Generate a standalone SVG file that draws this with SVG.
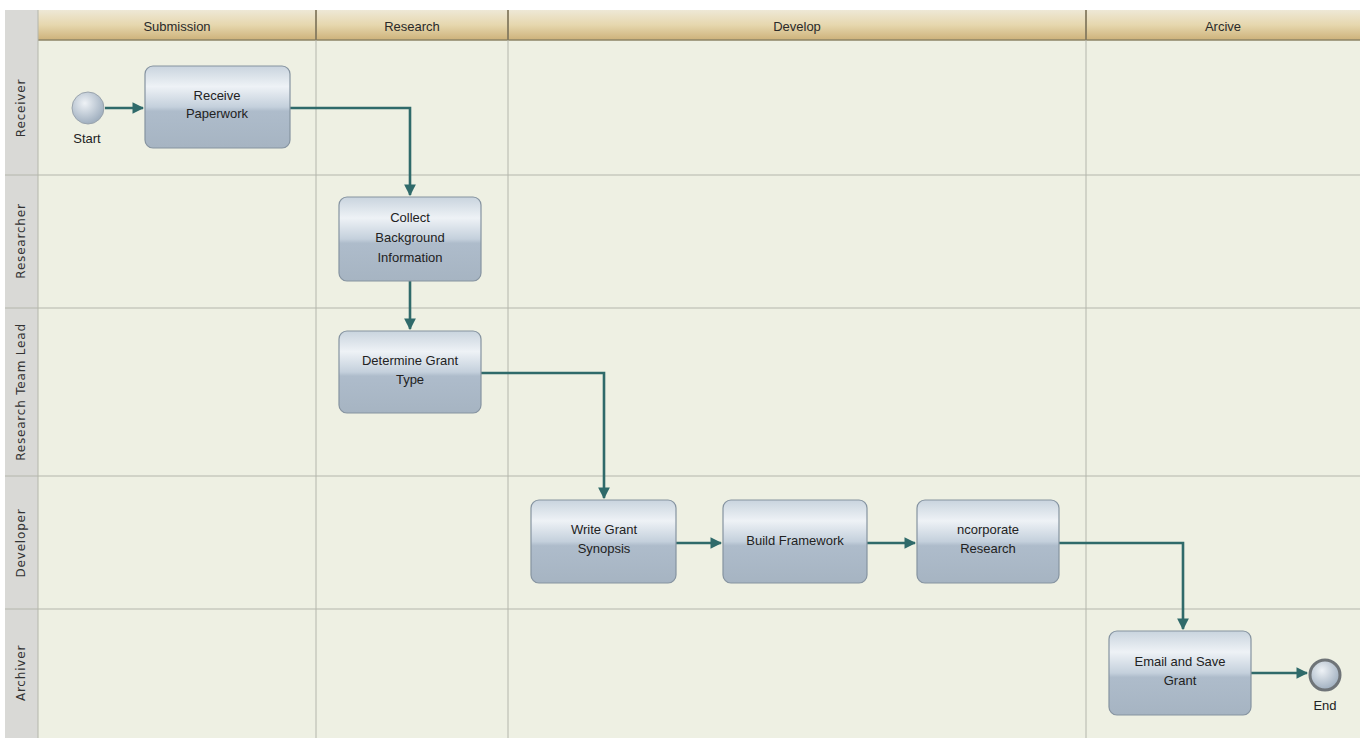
<svg xmlns="http://www.w3.org/2000/svg" width="1365" height="740" viewBox="0 0 1365 740">
<style>
.hdr{font-family:"Liberation Sans",Arial,sans-serif;font-size:13px;fill:#2a2a2a;text-anchor:middle}
.lane{font-family:"DejaVu Sans","Liberation Sans",sans-serif;font-size:12px;fill:#333;text-anchor:middle;letter-spacing:0.8px}
.t{font-family:"Liberation Sans",Arial,sans-serif;font-size:13px;fill:#222;text-anchor:middle}
.box{fill:url(#bg);stroke:#8593a0;stroke-width:1.2}
.grid{stroke:#b4b6ac;stroke-width:1;fill:none}
.conn{fill:none;stroke:#2f6a6a;stroke-width:2.6}
</style>
<defs>
<linearGradient id="bg" x1="0" y1="0" x2="0" y2="1">
<stop offset="0" stop-color="#c9d4de"/>
<stop offset="0.25" stop-color="#eef2f6"/>
<stop offset="0.5" stop-color="#c4d0dc"/>
<stop offset="0.55" stop-color="#aebccb"/>
<stop offset="1" stop-color="#a6b4c2"/>
</linearGradient>
<linearGradient id="hg" x1="0" y1="0" x2="0" y2="1">
<stop offset="0" stop-color="#eee8d6"/>
<stop offset="0.5" stop-color="#e6d7ae"/>
<stop offset="1" stop-color="#cdb27a"/>
</linearGradient>
<radialGradient id="cg" cx="0.4" cy="0.35" r="0.7">
<stop offset="0" stop-color="#eef2f6"/>
<stop offset="1" stop-color="#9aaabb"/>
</radialGradient>
<marker id="ah" viewBox="0 0 10 10" refX="9" refY="5" markerWidth="4.5" markerHeight="4.5" orient="auto">
<path d="M0,0 L10,5 L0,10 z" fill="#2f6a6a"/>
</marker>
</defs>
<rect width="1365" height="740" fill="#ffffff"/>
<g id="pool">
<rect x="5" y="10" width="1355" height="728" fill="#eef0e3"/>
<rect x="38" y="10" width="1322" height="30" fill="url(#hg)"/>
<rect x="5" y="10" width="33" height="728" fill="#d9d9d6"/>
<line class="grid" x1="38" y1="40" x2="1360" y2="40" style="stroke:#8d8466;stroke-width:1.5"/>
<line class="grid" x1="38" y1="10" x2="38" y2="738"/>
<line class="grid" x1="316" y1="10" x2="316" y2="738"/>
<line class="grid" x1="508" y1="10" x2="508" y2="738"/>
<line class="grid" x1="1086" y1="10" x2="1086" y2="738"/>
<line class="grid" x1="5" y1="175" x2="1360" y2="175"/>
<line class="grid" x1="5" y1="308" x2="1360" y2="308"/>
<line class="grid" x1="5" y1="476" x2="1360" y2="476"/>
<line class="grid" x1="5" y1="609" x2="1360" y2="609"/>
<line x1="316" y1="10" x2="316" y2="40" stroke="#7a6e50" stroke-width="1.5"/>
<line x1="508" y1="10" x2="508" y2="40" stroke="#7a6e50" stroke-width="1.5"/>
<line x1="1086" y1="10" x2="1086" y2="40" stroke="#7a6e50" stroke-width="1.5"/>
<text class="hdr" x="177" y="31">Submission</text>
<text class="hdr" x="412" y="31">Research</text>
<text class="hdr" x="797" y="31">Develop</text>
<text class="hdr" x="1223" y="31">Arcive</text>
<text class="lane" transform="translate(25,108) rotate(-90)">Receiver</text>
<text class="lane" transform="translate(25,241) rotate(-90)">Researcher</text>
<text class="lane" transform="translate(25,392) rotate(-90)">Research Team Lead</text>
<text class="lane" transform="translate(25,543) rotate(-90)">Developer</text>
<text class="lane" transform="translate(25,673) rotate(-90)">Archiver</text>
</g>
<g id="connectors">
<polyline class="conn" points="105,108 143,108" marker-end="url(#ah)"/>
<polyline class="conn" points="290,108 410,108 410,195" marker-end="url(#ah)"/>
<polyline class="conn" points="410,281 410,329" marker-end="url(#ah)"/>
<polyline class="conn" points="481,373 604,373 604,498" marker-end="url(#ah)"/>
<polyline class="conn" points="676,543 721,543" marker-end="url(#ah)"/>
<polyline class="conn" points="867,543 915,543" marker-end="url(#ah)"/>
<polyline class="conn" points="1059,543 1183,543 1183,629" marker-end="url(#ah)"/>
<polyline class="conn" points="1251,673 1307,673" marker-end="url(#ah)"/>
</g>
<g id="start">
<circle cx="88" cy="108" r="16" fill="url(#cg)" stroke="#9aa4ad" stroke-width="1"/>
<text class="t" x="87" y="143">Start</text>
</g>
<g id="receive">
<rect class="box" x="145" y="66" width="145" height="82" rx="8"/>
<text class="t" x="217" y="100">Receive</text>
<text class="t" x="217" y="118">Paperwork</text>
</g>
<g id="collect">
<rect class="box" x="339" y="197" width="142" height="84" rx="8"/>
<text class="t" x="410" y="222">Collect</text>
<text class="t" x="410" y="242">Background</text>
<text class="t" x="410" y="262">Information</text>
</g>
<g id="determine">
<rect class="box" x="339" y="331" width="142" height="82" rx="8"/>
<text class="t" x="410" y="365">Determine Grant</text>
<text class="t" x="410" y="384">Type</text>
</g>
<g id="write">
<rect class="box" x="531" y="500" width="145" height="83" rx="8"/>
<text class="t" x="604" y="534">Write Grant</text>
<text class="t" x="604" y="553">Synopsis</text>
</g>
<g id="build">
<rect class="box" x="723" y="500" width="144" height="83" rx="8"/>
<text class="t" x="795" y="545">Build Framework</text>
</g>
<g id="incorporate">
<rect class="box" x="917" y="500" width="142" height="83" rx="8"/>
<text class="t" x="988" y="534">ncorporate</text>
<text class="t" x="988" y="553">Research</text>
</g>
<g id="email">
<rect class="box" x="1109" y="631" width="142" height="84" rx="8"/>
<text class="t" x="1180" y="666">Email and Save</text>
<text class="t" x="1180" y="685">Grant</text>
</g>
<g id="end">
<circle cx="1325" cy="675" r="15" fill="url(#cg)" stroke="#6f7478" stroke-width="3"/>
<text class="t" x="1325" y="710">End</text>
</g>
</svg>
